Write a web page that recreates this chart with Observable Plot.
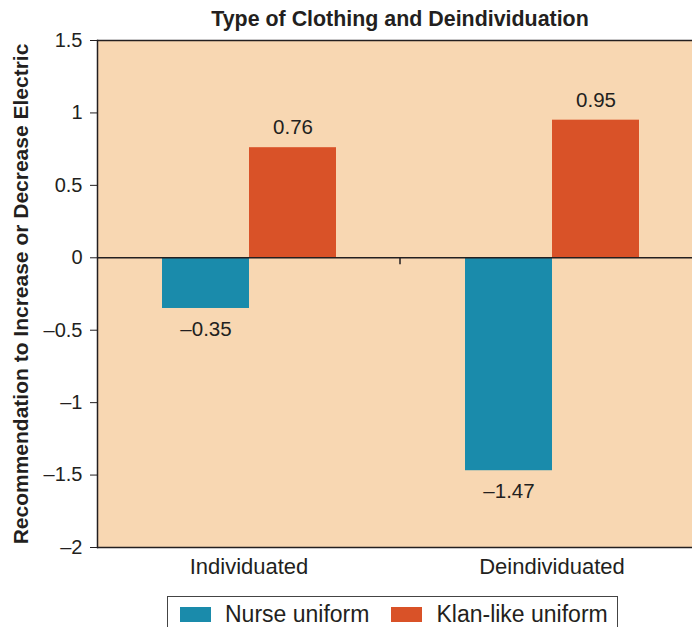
<!DOCTYPE html>
<html><head><meta charset="utf-8">
<script src="https://cdn.jsdelivr.net/npm/d3@7"></script>
<script src="https://cdn.jsdelivr.net/npm/@observablehq/plot@0.6"></script>
<style>
body{margin:0;background:#fff;font-family:"Liberation Sans",Arial,sans-serif;color:#231f20;}
#wrap{position:relative;width:692px;height:627px;overflow:hidden;}
#title{position:absolute;left:97px;width:606px;top:7px;text-align:center;font-weight:bold;font-size:21.4px;line-height:24px;color:#231f20;white-space:nowrap;}
#legend{position:absolute;left:167px;top:596px;width:451px;height:36px;border:1.5px solid #444;box-sizing:border-box;display:flex;align-items:center;padding-left:12px;font-size:23px;white-space:nowrap;}
#legend .item{display:flex;align-items:center;margin-right:22px;flex-shrink:0;}
#legend .sw{width:31px;height:15px;margin-right:14px;flex-shrink:0;}
svg [aria-label="y-axis label"]{font-weight:bold;font-size:21px;}
svg [aria-label="y-axis tick label"]{font-size:20px;}
svg [aria-label="fx-axis tick label"]{font-size:22px;}
</style></head>
<body><div id="wrap"><div id="chart"></div><div id="title"></div><div id="legend"></div></div>
<script>
const titleText = "Type of Clothing and Deindividuation";
const yLabel = "Recommendation to Increase or Decrease Electric";
const groups = ["Individuated", "Deindividuated"];
const series = ["Nurse uniform", "Klan-like uniform"];
const nurseValues = [-0.35, -1.47];
const klanValues = [0.76, 0.95];
const yTicks = [1.5, 1, 0.5, 0, -0.5, -1, -1.5, -2];
const colors = ["#1A8BAB", "#D95228"];

const data = groups.flatMap((g, i) => [
  {group: g, series: series[0], value: nurseValues[i]},
  {group: g, series: series[1], value: klanValues[i]}
]);
const fmtTick = d => (d < 0 ? "\u2013" : "") + Math.abs(d);
const fmtVal = d => (d < 0 ? "\u2013" : "") + Math.abs(d).toFixed(2);
const ink = "#231f20";

const plot = Plot.plot({
  width: 692, height: 592,
  marginLeft: 97, marginRight: 0, marginTop: 40, marginBottom: 45,
  style: {fontFamily: "'Liberation Sans', Arial, sans-serif", fontSize: "20px", color: ink, background: "transparent"},
  fx: {domain: groups, range: [97, 703], padding: 0, label: null, axis: "bottom", tickSize: 0, tickPadding: 11},
  x: {domain: series, axis: null, paddingInner: 0, paddingOuter: 0.741},
  y: {domain: [-2, 1.5], ticks: yTicks, tickFormat: fmtTick, tickSize: 7, tickPadding: 8,
      label: yLabel, labelAnchor: "center", labelOffset: 84, labelArrow: false},
  color: {domain: series, range: colors},
  marks: [
    Plot.frame({fill: "#F8D7B2", stroke: null, facet: "super"}),
    Plot.barY(data, {fx: "group", x: "series", y: "value", fill: "series"}),
    Plot.ruleY([1.5, 0, -2], {stroke: ink, strokeWidth: 1.5}),
    Plot.frame({anchor: "left", facet: "super", stroke: ink, strokeWidth: 1.5}),
    Plot.text(data.filter(d => d.value >= 0), {fx: "group", x: "series", y: "value", text: d => fmtVal(d.value), dy: -20, fontSize: 20.5, fill: ink}),
    Plot.text(data.filter(d => d.value < 0), {fx: "group", x: "series", y: "value", text: d => fmtVal(d.value), dy: 21, fontSize: 20.5, fill: ink})
  ]
});
document.getElementById("chart").appendChild(plot);

// separator tick between the two groups, placed with the plot's own scales
const fxS = plot.scale("fx"), yS = plot.scale("y");
const sepX = fxS.apply(groups[1]);
const y0 = yS.apply(0);
d3.select(plot).append("line")
  .attr("x1", sepX).attr("x2", sepX).attr("y1", y0).attr("y2", y0 + 7)
  .attr("stroke", ink).attr("stroke-width", 1.5);

document.getElementById("title").textContent = titleText;
const legend = d3.select("#legend");
series.forEach((s, i) => {
  const it = legend.append("div").attr("class", "item");
  it.append("div").attr("class", "sw").style("background", colors[i]);
  it.append("span").text(s);
});
</script></body></html>
